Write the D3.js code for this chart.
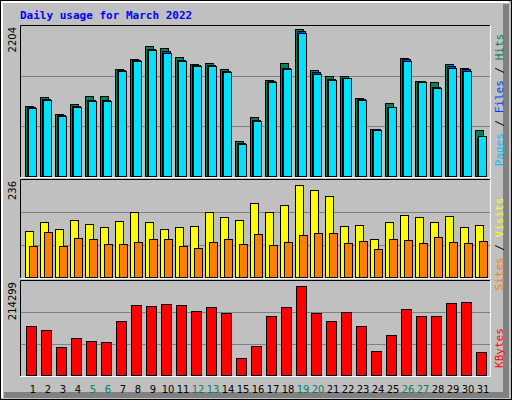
<!DOCTYPE html>
<html><head><meta charset="utf-8">
<script src="https://cdn.jsdelivr.net/npm/d3@7"></script>
<style>body{margin:0;background:#fff}</style>
</head><body>
<svg id="chart" width="512" height="400"></svg>
<script>
const days = d3.range(1, 32);
const weekend = [5, 6, 12, 13, 19, 20, 26, 27];
const hits = [1028,1161,911,1058,1175,1175,1572,1719,1910,1881,1748,1645,1660,1572,514,867,1410,1660,2160,1557,1469,1469,1146,690,1073,1734,1396,1381,1645,1587,676];
const files = [1014,1131,896,1028,1117,1117,1557,1704,1866,1837,1704,1630,1630,1543,484,822,1396,1587,2130,1528,1425,1440,1131,690,1014,1719,1396,1307,1616,1572,558];
const pages = [999,1116,881,1014,1102,1102,1543,1689,1851,1807,1689,1616,1616,1528,470,808,1381,1572,2101,1498,1410,1440,1116,676,1014,1689,1381,1293,1587,1543,588];
const visits = [112,134,117,139,129,122,137,159,134,117,122,125,159,147,139,179,157,174,225,211,196,125,127,93,134,152,147,134,149,122,127];
const sites = [75,110,75,95,93,80,80,85,93,93,75,70,85,93,80,105,78,85,102,107,107,83,88,68,93,90,83,98,85,83,88];
const kbytes = [111600,102672,64728,84816,78120,75888,122760,158472,156240,162936,158472,145080,154008,140616,37944,66960,133920,154008,203112,140616,122760,142848,111600,55800,91512,149544,133920,133920,165168,167400,51336];
const maxHits = 2204, maxVisits = 236, maxKB = 214299;

const svg = d3.select("#chart");
const font = "DejaVu Sans Mono, monospace";

// frame with bevel
svg.append("rect").attr("x", 0).attr("y", 0).attr("width", 512).attr("height", 400).attr("fill", "#c0c0c0");
svg.append("path").attr("d", "M506,4V395H4").attr("fill", "none").attr("stroke", "#808080").attr("stroke-width", 6);
svg.append("path").attr("d", "M2,398V2H509").attr("fill", "none").attr("stroke", "#fff").attr("stroke-width", 2);
svg.append("rect").attr("x", 0.5).attr("y", 0.5).attr("width", 511).attr("height", 399).attr("fill", "none").attr("stroke", "#000");

svg.append("text").attr("x", 20).attr("y", 19).attr("font-family", font).attr("font-weight", "bold")
  .attr("font-size", 11).attr("fill", "#0000ff").text("Daily usage for March 2022");

const x = d3.scaleBand().domain(days).range([20, 485]);

function panel(y0, y1) {
  svg.append("rect").attr("x", 20).attr("y", y0).attr("width", 470).attr("height", y1 - y0).attr("fill", "#c0c0c0");
  svg.append("path").attr("d", `M20.5,${y1}V${y0 + 0.5}H490`).attr("fill", "none").attr("stroke", "#000");
  svg.append("path").attr("d", `M20,${y1 + 0.5}H490.5V${y0}`).attr("fill", "none").attr("stroke", "#fff");
  const y = d3.scaleLinear().domain([0, 1]).range([y1 - 1, y0 + 1]);
  [1 / 3, 2 / 3].forEach(f => svg.append("line").attr("x1", 21).attr("x2", 490)
    .attr("y1", Math.round(y(f)) + 0.5).attr("y2", Math.round(y(f)) + 0.5).attr("stroke", "#808080"));
}

function bars(data, max, y0, y1, off, w, color) {
  const y = d3.scaleLinear().domain([0, max]).range([y1 - 1, y0 + 1]);
  svg.append("g").selectAll("rect").data(data).join("rect")
    .attr("x", (d, i) => x(days[i]) + off + 0.5).attr("width", w)
    .attr("y", d => Math.round(y(d)) + 0.5).attr("height", d => y1 - 1 - Math.round(y(d)))
    .attr("fill", color).attr("stroke", "#000");
}

function sideLabel(parts, cy) {
  const t = svg.append("text").attr("transform", `translate(503,${cy}) rotate(-90)`)
    .attr("text-anchor", "middle").attr("font-family", font).attr("font-size", 11);
  parts.forEach(p => t.append("tspan").attr("fill", p[1]).text(p[0]));
}

function maxLabel(txt, y0) {
  svg.append("text").attr("transform", `translate(16,${y0 + 2}) rotate(-90)`).attr("text-anchor", "end")
    .attr("font-family", "DejaVu Sans, sans-serif").attr("font-size", 10).attr("fill", "#000").text(txt);
}

// hits / files / pages
panel(25, 177);
bars(hits, maxHits, 25, 177, 5, 8, "#00805c");
bars(files, maxHits, 25, 177, 7, 8, "#0040ff");
bars(pages, maxHits, 25, 177, 8, 8, "#00e0ff");
maxLabel("2204", 25);
sideLabel([["Pages", "#00c0ff"], [" / ", "#000"], ["Files", "#0040ff"], [" / ", "#000"], ["Hits", "#00805c"]], 100);

// visits / sites
panel(179, 278);
bars(visits, maxVisits, 179, 278, 5, 8, "#ffff00");
bars(sites, maxVisits, 179, 278, 9, 8, "#ff8000");
maxLabel("236", 179);
sideLabel([["Sites", "#ff8000"], [" / ", "#000"], ["Visits", "#ffff00"]], 244);

// kbytes
panel(280, 376);
bars(kbytes, maxKB, 280, 376, 6, 10, "#ff0000");
maxLabel("214299", 280);
sideLabel([["KBytes", "#ff0000"]], 348);

svg.append("g").selectAll("text").data(days).join("text")
  .attr("x", d => x(d) + 13).attr("y", 393).attr("text-anchor", "middle")
  .attr("font-family", "DejaVu Sans, sans-serif").attr("font-size", 10)
  .attr("fill", d => weekend.includes(d) ? "#00805c" : "#000").text(d => d);
</script>
</body></html>
